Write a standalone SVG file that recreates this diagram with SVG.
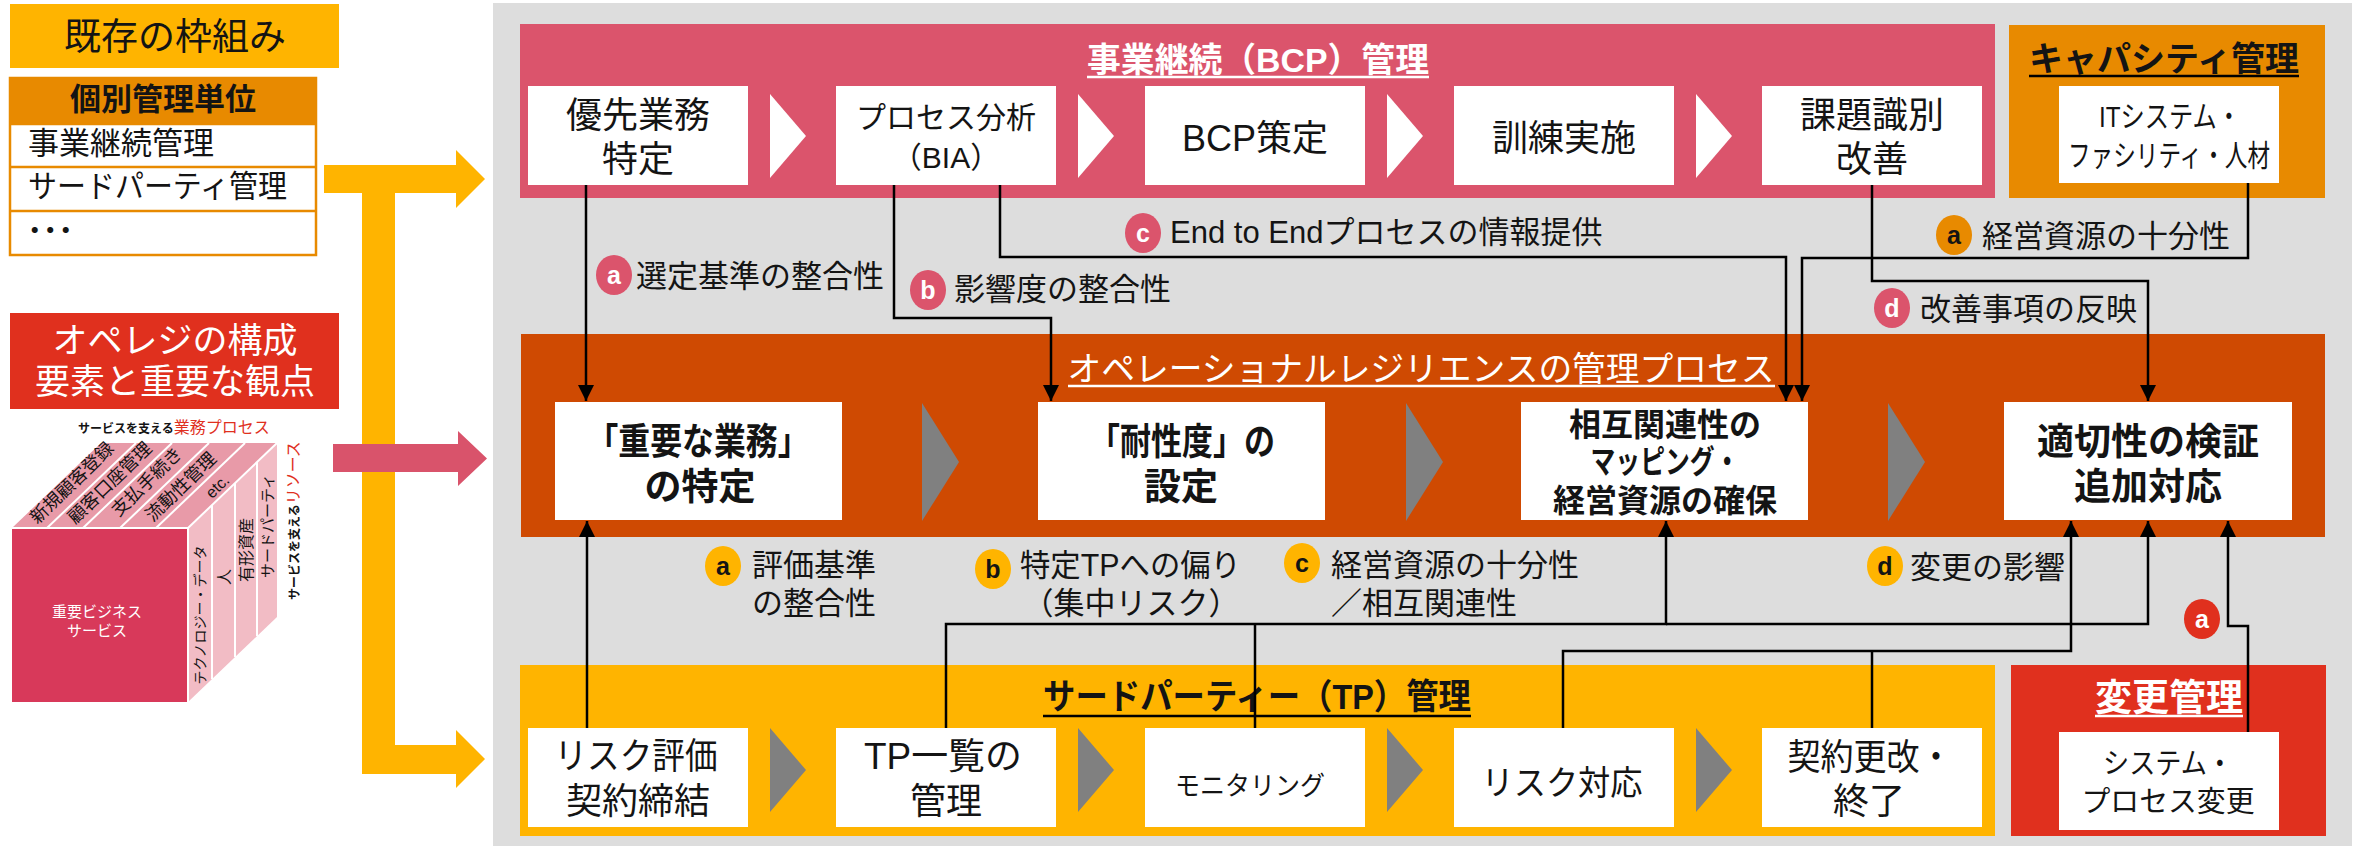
<svg xmlns="http://www.w3.org/2000/svg" width="2366" height="846" viewBox="0 0 2366 846">
<defs>
<style>
text { font-family: "Liberation Sans", "Noto Sans CJK JP", sans-serif; fill: #141414; }
.c { text-anchor: middle; }
.b { font-weight: bold; }
.w { fill: #ffffff; }
.lbl { font-size: 31px; }
.box { fill: #ffffff; }
.bcp-t { font-size: 36px; }
.main-t { font-size: 37px; font-weight: bold; }
.tp-t { font-size: 36px; }
.conn { fill: none; stroke: #000000; stroke-width: 2.5; }
.ulw { stroke: #ffffff; stroke-width: 2.5; }
.ulk { stroke: #000000; stroke-width: 2.5; }
.chev-w { fill: #ffffff; }
.chev-g { fill: #808080; }
.badge { font-size: 25px; font-weight: bold; text-anchor: middle; }
.sep { stroke: #ffffff; stroke-width: 2; }
</style>
<marker id="ah" viewBox="0 0 16 16" refX="16" refY="8" markerWidth="16" markerHeight="16" markerUnits="userSpaceOnUse" orient="auto">
<path d="M0,0 L16,8 L0,16 z" fill="#000000"/>
</marker>
</defs>

<rect width="2366" height="846" fill="#ffffff"/>

<!-- left column: existing framework -->
<g id="existing-framework">
<rect x="10" y="4" width="329" height="64" fill="#FFB400"/>
<text x="175" y="50" class="c" font-size="37">既存の枠組み</text>
</g>

<g id="unit-table">
<rect x="10" y="78" width="306" height="177" fill="#ffffff" stroke="#E88A00" stroke-width="2.5"/>
<rect x="10" y="78" width="306" height="46" fill="#E88A00"/>
<line x1="10" y1="124" x2="316" y2="124" stroke="#E88A00" stroke-width="2.5"/>
<line x1="10" y1="167" x2="316" y2="167" stroke="#E88A00" stroke-width="2.5"/>
<line x1="10" y1="211" x2="316" y2="211" stroke="#E88A00" stroke-width="2.5"/>
<text x="163" y="110" class="c b" font-size="31">個別管理単位</text>
<text x="28" y="154" font-size="31">事業継続管理</text>
<text x="28" y="197" font-size="31" textLength="259" lengthAdjust="spacingAndGlyphs">サードパーティ管理</text>
<text x="27" y="241" font-size="31" font-weight="bold">･･･</text>
</g>

<g id="opres-heading">
<rect x="10" y="313" width="329" height="96" fill="#E0301E"/>
<text x="175" y="353" class="c w" font-size="35">オペレジの構成</text>
<text x="175" y="394" class="c w" font-size="35">要素と重要な観点</text>
</g>

<!-- feed arrows into the management panel -->
<g id="feed-arrows">
<polygon points="324,165 456,165 456,150 485,179 456,208 456,193 395,193 395,745 456,745 456,730 485,759 456,788 456,774 362,774 362,193 324,193" fill="#FFB400"/>
<polygon points="333,444 458,444 458,431 487,458.5 458,486 458,472 333,472" fill="#D9536B"/>
</g>

<!-- service cube -->
<g id="service-cube">
<text x="78" y="433"><tspan font-size="12" font-weight="bold">サービスを支える</tspan><tspan font-size="16" fill="#E0301E">業務プロセス</tspan></text>
<rect x="12" y="528" width="176" height="174" fill="#D8395A"/>
<polygon points="12,528 188,528 277,443 101,443" fill="#E89AA8"/>
<polygon points="188,528 277,443 277,617 188,702" fill="#F2BCC5"/>
<line class="sep" x1="47" y1="528" x2="136" y2="443"/>
<line class="sep" x1="83" y1="528" x2="172" y2="443"/>
<line class="sep" x1="120" y1="528" x2="209" y2="443"/>
<line class="sep" x1="156" y1="528" x2="245" y2="443"/>
<line class="sep" x1="212" y1="505" x2="212" y2="679"/>
<line class="sep" x1="235" y1="483" x2="235" y2="657"/>
<line class="sep" x1="257" y1="462" x2="257" y2="636"/>
<line class="sep" x1="188" y1="528" x2="277" y2="443"/>
<line class="sep" x1="188" y1="528" x2="188" y2="702"/>
<line class="sep" x1="12" y1="528" x2="188" y2="528"/>
<g font-size="18" text-anchor="middle">
<text transform="translate(72,483) rotate(-44)" y="6">新規顧客登録</text>
<text transform="translate(110,483) rotate(-44)" y="6">顧客口座管理</text>
<text transform="translate(147,482) rotate(-44)" y="6">支払手続き</text>
<text transform="translate(181,487) rotate(-44)" y="6">流動性管理</text>
<text transform="translate(217,486) rotate(-44)" y="6" font-size="16">etc.</text>
</g>
<text transform="translate(205,615) rotate(-90)" font-size="14" text-anchor="middle">テクノロジー・データ</text>
<text transform="translate(230,577) rotate(-90)" font-size="16" text-anchor="middle">人</text>
<text transform="translate(252,550) rotate(-90)" font-size="16" text-anchor="middle">有形資産</text>
<text transform="translate(273,526) rotate(-90)" font-size="15" text-anchor="middle">サードパーティ</text>
<text transform="translate(299,600) rotate(-90)"><tspan font-size="12" font-weight="bold">サービスを支える</tspan><tspan font-size="16" fill="#E0301E">リソース</tspan></text>
<text x="97" y="617" class="c w" font-size="15">重要ビジネス</text>
<text x="97" y="636" class="c w" font-size="15">サービス</text>
</g>

<!-- management panel background -->
<rect id="panel" x="493" y="3" width="1859" height="843" fill="#DDDDDD"/>

<!-- BCP management -->
<g id="bcp">
<rect x="520" y="24" width="1475" height="174" fill="#DB546C"/>
<text x="1258" y="72" class="c b w" font-size="34" textLength="342" lengthAdjust="spacingAndGlyphs">事業継続（BCP）管理</text>
<line class="ulw" x1="1087" y1="77" x2="1429" y2="77"/>
<polygon class="chev-w" points="770,94 806,136 770,178"/>
<polygon class="chev-w" points="1078,94 1114,136 1078,178"/>
<polygon class="chev-w" points="1387,94 1423,136 1387,178"/>
<polygon class="chev-w" points="1696,94 1732,136 1696,178"/>
</g>
<g id="bcp-1">
<rect class="box" x="528" y="86" width="220" height="99"/>
<text x="638" y="128" class="c bcp-t">優先業務</text>
<text x="638" y="172" class="c bcp-t">特定</text>
</g>
<g id="bcp-2">
<rect class="box" x="836" y="86" width="220" height="99"/>
<text x="946" y="128" class="c" font-size="30">プロセス分析</text>
<text x="946" y="168" class="c" font-size="30">（BIA）</text>
</g>
<g id="bcp-3">
<rect class="box" x="1145" y="86" width="220" height="99"/>
<text x="1255" y="151" class="c bcp-t">BCP策定</text>
</g>
<g id="bcp-4">
<rect class="box" x="1454" y="86" width="220" height="99"/>
<text x="1564" y="151" class="c bcp-t">訓練実施</text>
</g>
<g id="bcp-5">
<rect class="box" x="1762" y="86" width="220" height="99"/>
<text x="1872" y="128" class="c bcp-t">課題識別</text>
<text x="1872" y="172" class="c bcp-t">改善</text>
</g>

<!-- capacity management -->
<g id="capacity">
<rect x="2009" y="25" width="316" height="173" fill="#E88A00"/>
<text x="2164" y="71" class="c b" font-size="34">キャパシティ管理</text>
<line class="ulk" x1="2029" y1="76" x2="2299" y2="76"/>
<rect class="box" x="2059" y="86" width="220" height="97"/>
<text x="2170" y="127" class="c" font-size="30" textLength="142" lengthAdjust="spacingAndGlyphs">ITシステム・</text>
<text x="2169" y="166" class="c" font-size="30" textLength="202" lengthAdjust="spacingAndGlyphs">ファシリティ・人材</text>
</g>

<!-- operational resilience process -->
<g id="opres">
<rect x="521" y="334" width="1804" height="203" fill="#CF4A02"/>
<text x="1421" y="381" class="c w" font-size="34" textLength="707" lengthAdjust="spacingAndGlyphs">オペレーショナルレジリエンスの管理プロセス</text>
<line class="ulw" x1="1068" y1="386" x2="1775" y2="386"/>
<polygon class="chev-g" points="922,403 959,462 922,521"/>
<polygon class="chev-g" points="1406,403 1443,462 1406,521"/>
<polygon class="chev-g" points="1888,403 1925,462 1888,521"/>
</g>
<g id="opres-1">
<rect class="box" x="555" y="402" width="287" height="118"/>
<text x="698" y="455" class="c main-t" textLength="223" lengthAdjust="spacingAndGlyphs">「重要な業務」</text>
<text x="700" y="500" class="c main-t">の特定</text>
</g>
<g id="opres-2">
<rect class="box" x="1038" y="402" width="287" height="118"/>
<text x="1182" y="455" class="c main-t" textLength="186" lengthAdjust="spacingAndGlyphs">「耐性度」の</text>
<text x="1181" y="500" class="c main-t">設定</text>
</g>
<g id="opres-3">
<rect class="box" x="1521" y="402" width="287" height="118"/>
<text x="1665" y="436" class="c b" font-size="32">相互関連性の</text>
<text x="1665" y="473" class="c b" font-size="32" textLength="149" lengthAdjust="spacingAndGlyphs">マッピング・</text>
<text x="1665" y="512" class="c b" font-size="32">経営資源の確保</text>
</g>
<g id="opres-4">
<rect class="box" x="2004" y="402" width="288" height="118"/>
<text x="2148" y="455" class="c main-t">適切性の検証</text>
<text x="2148" y="500" class="c main-t">追加対応</text>
</g>

<!-- third-party management -->
<g id="tp">
<rect x="520" y="665" width="1475" height="171" fill="#FFB400"/>
<text x="1257" y="709" class="c b" font-size="35" textLength="428" lengthAdjust="spacingAndGlyphs">サードパーティー（TP）管理</text>
<line class="ulk" x1="1043" y1="716" x2="1471" y2="716"/>
<polygon class="chev-g" points="770,728 806,770 770,812"/>
<polygon class="chev-g" points="1078,728 1114,770 1078,812"/>
<polygon class="chev-g" points="1387,728 1423,770 1387,812"/>
<polygon class="chev-g" points="1696,728 1732,770 1696,812"/>
</g>
<g id="tp-1">
<rect class="box" x="528" y="728" width="220" height="99"/>
<text x="636" y="769" class="c tp-t" textLength="163" lengthAdjust="spacingAndGlyphs">リスク評価</text>
<text x="638" y="814" class="c tp-t">契約締結</text>
</g>
<g id="tp-2">
<rect class="box" x="836" y="728" width="220" height="99"/>
<text x="943" y="769" class="c tp-t" textLength="158" lengthAdjust="spacingAndGlyphs">TP一覧の</text>
<text x="946" y="814" class="c tp-t">管理</text>
</g>
<g id="tp-3">
<rect class="box" x="1145" y="728" width="220" height="99"/>
<text x="1250" y="795" class="c" font-size="26" textLength="150" lengthAdjust="spacingAndGlyphs">モニタリング</text>
</g>
<g id="tp-4">
<rect class="box" x="1454" y="728" width="220" height="99"/>
<text x="1562" y="795" class="c" font-size="34" textLength="161" lengthAdjust="spacingAndGlyphs">リスク対応</text>
</g>
<g id="tp-5">
<rect class="box" x="1762" y="728" width="220" height="99"/>
<text x="1870" y="770" class="c tp-t" textLength="165" lengthAdjust="spacingAndGlyphs">契約更改・</text>
<text x="1869" y="814" class="c tp-t">終了</text>
</g>

<!-- change management -->
<g id="change">
<rect x="2011" y="665" width="315" height="171" fill="#E0301E"/>
<text x="2169" y="711" class="c b w" font-size="37">変更管理</text>
<line class="ulw" x1="2095" y1="716" x2="2243" y2="716"/>
<rect class="box" x="2059" y="732" width="220" height="98"/>
<text x="2168" y="774" class="c" font-size="29" textLength="130" lengthAdjust="spacingAndGlyphs">システム・</text>
<text x="2168" y="812" class="c" font-size="29" textLength="173" lengthAdjust="spacingAndGlyphs">プロセス変更</text>
</g>

<!-- connectors -->
<g id="connectors">
<path class="conn" d="M586,185 V401" marker-end="url(#ah)"/>
<path class="conn" d="M894,185 V318 H1051 V401" marker-end="url(#ah)"/>
<path class="conn" d="M1000,185 V257 H1786 V401" marker-end="url(#ah)"/>
<path class="conn" d="M2248,183 V258 H1802 V401" marker-end="url(#ah)"/>
<path class="conn" d="M1872,185 V281 H2148 V401" marker-end="url(#ah)"/>
<path class="conn" d="M587,728 V521" marker-end="url(#ah)"/>
<path class="conn" d="M946,728 V624 H1666 V521" marker-end="url(#ah)"/>
<path class="conn" d="M1666,624 H2148 V521" marker-end="url(#ah)"/>
<path class="conn" d="M1255,728 V624"/>
<path class="conn" d="M1563,728 V651 H2071 V521" marker-end="url(#ah)"/>
<path class="conn" d="M1872,728 V651"/>
<path class="conn" d="M2248,732 V626 H2228 V521" marker-end="url(#ah)"/>
</g>

<!-- connector labels -->
<g id="label-bcp-a">
<ellipse cx="614" cy="275" rx="18" ry="20" fill="#DB546C"/>
<text x="614" y="284" class="badge w">a</text>
<text x="636" y="287" class="lbl">選定基準の整合性</text>
</g>
<g id="label-bcp-b">
<ellipse cx="928" cy="290" rx="18" ry="20" fill="#DB546C"/>
<text x="928" y="299" class="badge w">b</text>
<text x="954" y="300" class="lbl">影響度の整合性</text>
</g>
<g id="label-bcp-c">
<ellipse cx="1143" cy="233" rx="18" ry="20" fill="#DB546C"/>
<text x="1143" y="242" class="badge w">c</text>
<text x="1170" y="243" class="lbl">End to Endプロセスの情報提供</text>
</g>
<g id="label-cap-a">
<ellipse cx="1954" cy="235" rx="18" ry="20" fill="#E88A00"/>
<text x="1954" y="244" class="badge">a</text>
<text x="1982" y="247" class="lbl">経営資源の十分性</text>
</g>
<g id="label-bcp-d">
<ellipse cx="1892" cy="308" rx="18" ry="20" fill="#DB546C"/>
<text x="1892" y="317" class="badge w">d</text>
<text x="1920" y="320" class="lbl">改善事項の反映</text>
</g>
<g id="label-tp-a">
<ellipse cx="723" cy="566" rx="18" ry="20" fill="#FFB400"/>
<text x="723" y="575" class="badge">a</text>
<text x="752" y="576" class="lbl">評価基準</text>
<text x="752" y="614" class="lbl">の整合性</text>
</g>
<g id="label-tp-b">
<ellipse cx="993" cy="569" rx="18" ry="20" fill="#FFB400"/>
<text x="993" y="578" class="badge">b</text>
<text x="1020" y="576" class="lbl" textLength="221" lengthAdjust="spacingAndGlyphs">特定TPへの偏り</text>
<text x="1131" y="614" class="lbl c">（集中リスク）</text>
</g>
<g id="label-tp-c">
<ellipse cx="1302" cy="563" rx="18" ry="20" fill="#FFB400"/>
<text x="1302" y="572" class="badge">c</text>
<text x="1331" y="576" class="lbl">経営資源の十分性</text>
<text x="1331" y="614" class="lbl">／相互関連性</text>
</g>
<g id="label-tp-d">
<ellipse cx="1885" cy="566" rx="18" ry="20" fill="#FFB400"/>
<text x="1885" y="575" class="badge">d</text>
<text x="1910" y="578" class="lbl">変更の影響</text>
</g>
<g id="label-change-a">
<ellipse cx="2202" cy="619" rx="18" ry="20" fill="#E0301E"/>
<text x="2202" y="628" class="badge w">a</text>
</g>
</svg>
